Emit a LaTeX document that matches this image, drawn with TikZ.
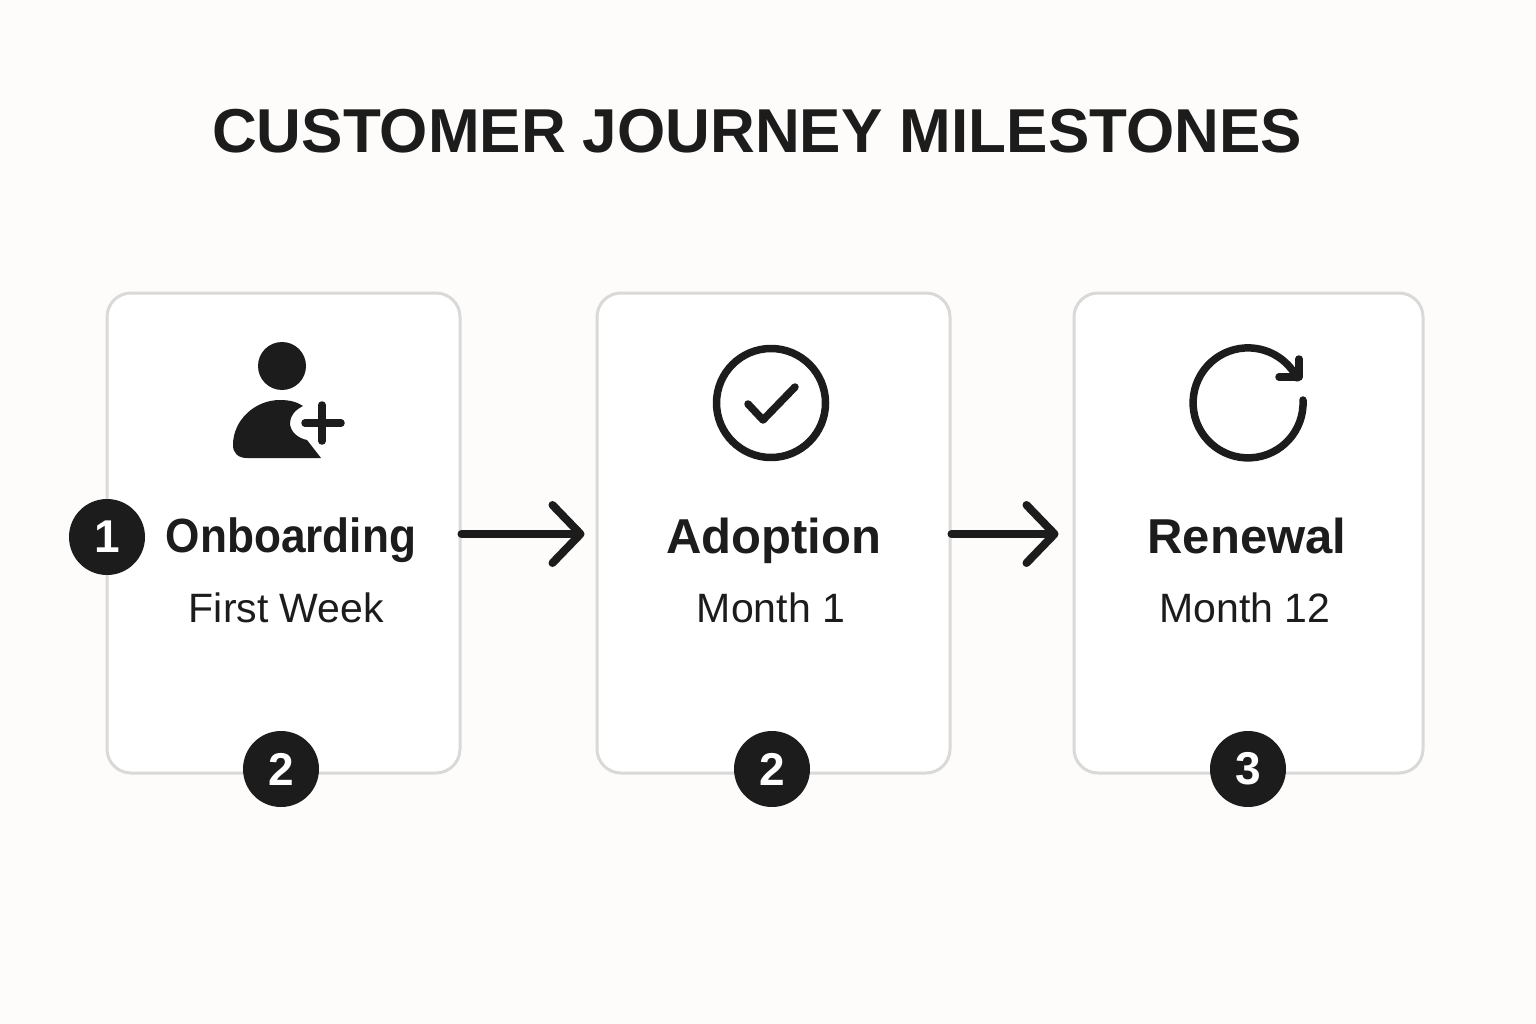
\documentclass[tikz,border=0pt]{standalone}
\usepackage{fontspec}
\setmainfont{Liberation Sans}
\newfontfamily\headfont[FakeStretch=0.92]{Liberation Sans}
\usetikzlibrary{arrows.meta}
\definecolor{ink}{HTML}{1C1C1C}
\definecolor{paper}{HTML}{FDFCFA}
\definecolor{cardline}{HTML}{D9D9D8}
\tikzset{
  card/.style = {draw = cardline, fill = white, line width = 3pt, rounded corners = 24pt, inner sep = 0pt, minimum height = 480pt},
  badge/.style = {circle, fill = ink, text = white, inner sep = 0pt, minimum size = 76pt, font = \fontsize{46}{46}\selectfont\bfseries},
  heading/.style = {anchor = base, text = ink, inner sep = 0pt, font = \fontsize{49}{49}\selectfont\bfseries},
  period/.style = {anchor = base, text = ink, inner sep = 0pt, font = \fontsize{41}{41}\selectfont},
  flow/.style = {draw = ink, line width = 8pt, line cap = round, shorten > = 14pt, -{Straight Barb[length = 28pt, width = 58pt, round]}},
  icon/.style = {draw = ink, line width = 7.5pt, line cap = round, line join = round}
}
\begin{document}
\begin{tikzpicture}[x = 1pt, y = -1pt]
\fill [paper] (0,0) rectangle (1536,1024);
\node [anchor = base, text = ink, inner sep = 0pt, font = \fontsize{62}{62}\selectfont\bfseries] (title) at (757,153) {CUSTOMER JOURNEY MILESTONES};
\node [card, minimum width = 353pt] (onboardcard) at (283.5,533) {};
\node [card, minimum width = 353pt] (adoptioncard) at (773.5,533) {};
\node [card, minimum width = 349pt] (renewalcard) at (1248.5,533) {};
\draw [flow, shorten > = 11pt] ([yshift = -1pt]onboardcard.east) -- ([yshift = -1pt]adoptioncard.west);
\draw [flow] ([yshift = -1pt]adoptioncard.east) -- ([yshift = -1pt]renewalcard.west);
% person icon
\fill [ink] (282,366) circle [radius = 24];
\fill [ink] (233,445) .. controls (233,420) and (255,400) .. (280,400) .. controls (290,400) and (297,402) .. (303,406) .. controls (295,410) and (290,416) .. (290,423) .. controls (290,431) and (297,438) .. (307,440) -- (321,458) -- (247,458) .. controls (238,458) and (233,453) .. (233,445) -- cycle;
\draw [icon] (305,423) -- (341,423);
\draw [icon] (322,405) -- (322,441);
% check icon
\draw [icon] (771,403) circle [radius = 54.5];
\draw [icon] (748,404) -- (763,420) -- (795,387);
% renewal icon
\draw [icon] (1303,400) arc [start angle = -3, end angle = 333, radius = 55];
\draw [icon] (1299,359) -- (1299,377) -- (1279,377);
\node [heading, font = \fontsize{48}{48}\headfont\bfseries] (onboardname) at (291,552) {Onboarding};
\node [heading] (adoptionname) at (773.5,553) {Adoption};
\node [heading] (renewalname) at (1247,553) {Renewal};
\node [period] (onboardtime) at (286.5,622) {First Week};
\node [period] (adoptiontime) at (771,622) {Month 1};
\node [period] (renewaltime) at (1245,622) {Month 12};
\node [badge] (badgeone) at (107,537) {1};
\node [badge] (badgetwo) at (281,769) {2};
\node [badge] (badgethree) at (772,769) {2};
\node [badge] (badgefour) at (1248,769) {3};
\end{tikzpicture}
\end{document}
